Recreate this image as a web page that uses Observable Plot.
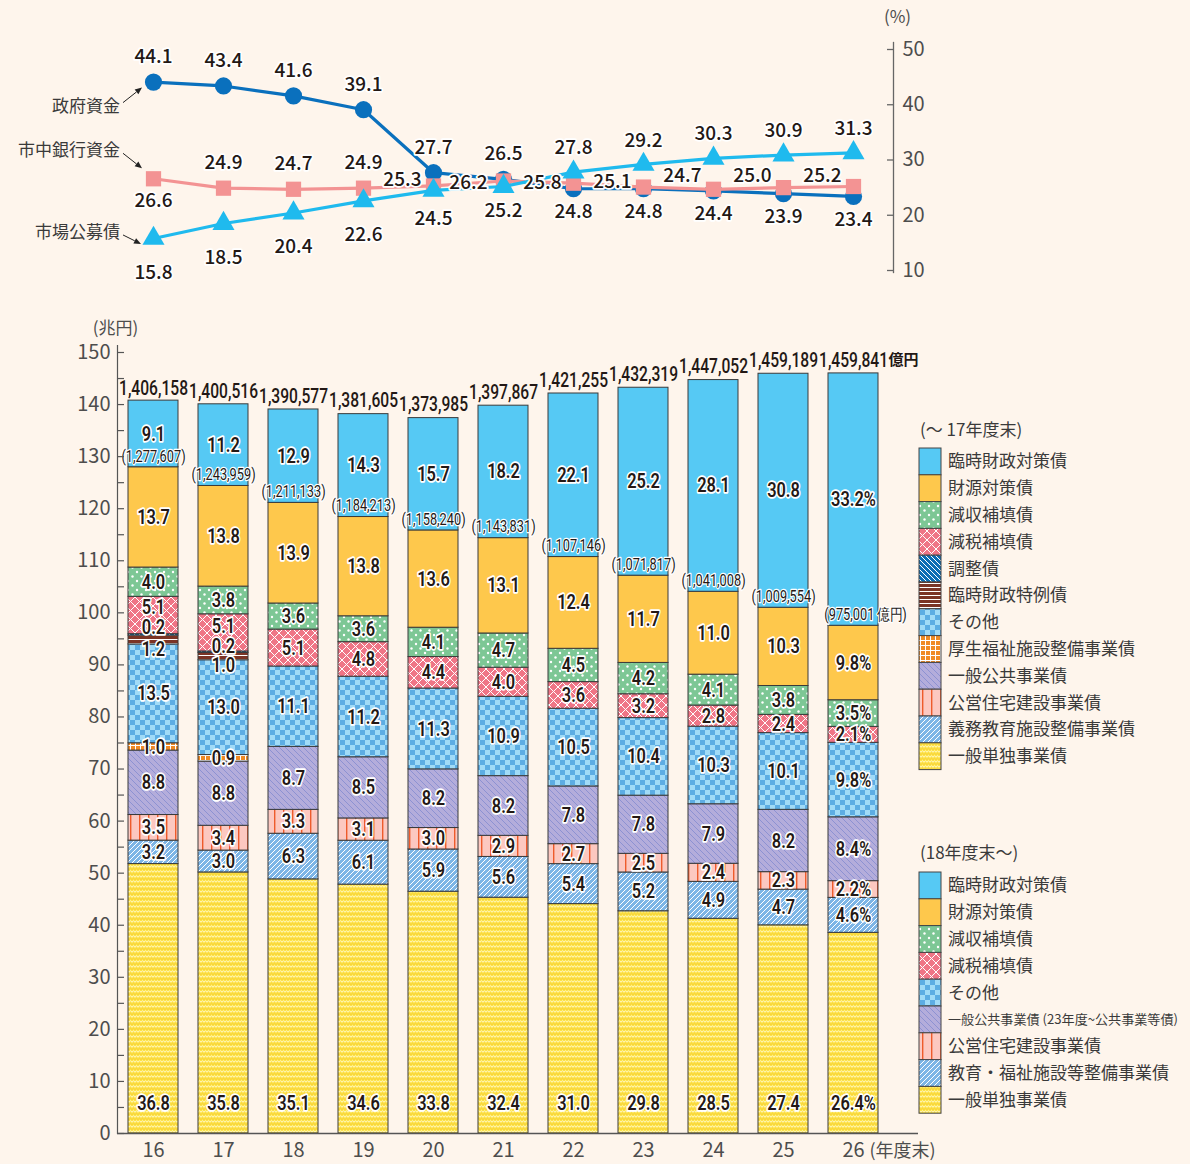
<!DOCTYPE html>
<html><head><meta charset="utf-8">
<script src="https://cdn.jsdelivr.net/npm/d3@7"></script>
<script src="https://cdn.jsdelivr.net/npm/@observablehq/plot@0.6"></script>
<style>
html,body{margin:0;padding:0;background:#fef5ec;}
#wrap{position:relative;width:1190px;height:1164px;overflow:hidden;background:#fef5ec;font-family:"Noto Sans CJK JP",sans-serif;}
#top,#bottom,#legend{position:absolute;left:0;}
#top{top:0}
#bottom{top:300px}
#legend{top:0}
</style></head><body>
<div id="wrap">
<svg width="0" height="0" style="position:absolute">
<defs>
<pattern id="pDots" width="9" height="9" patternUnits="userSpaceOnUse">
  <rect width="9" height="9" fill="#7dc795"/>
  <circle cx="2" cy="2" r="1.2" fill="#fff"/>
  <circle cx="6.5" cy="6.5" r="1.2" fill="#fff"/>
</pattern>
<pattern id="pCross" width="9" height="9" patternUnits="userSpaceOnUse">
  <rect width="9" height="9" fill="#ef7586"/>
  <path d="M0,0L9,9M9,0L0,9" stroke="#fff" stroke-width="1"/>
</pattern>
<pattern id="pAdj" width="5" height="5" patternUnits="userSpaceOnUse">
  <rect width="5" height="5" fill="#0a6cb4"/>
  <path d="M0,0L5,5M-1,4L1,6M4,-1L6,1" stroke="#fff" stroke-width="1"/>
</pattern>
<pattern id="pHStripe" width="4" height="4" patternUnits="userSpaceOnUse">
  <rect width="4" height="4" fill="#7b3425"/>
  <rect y="3" width="4" height="1" fill="#fff"/>
</pattern>
<pattern id="pChecker" width="10" height="10" patternUnits="userSpaceOnUse">
  <rect width="10" height="10" fill="#a1dbf7"/>
  <rect width="5" height="5" fill="#5dade3"/>
  <rect x="5" y="5" width="5" height="5" fill="#5dade3"/>
</pattern>
<pattern id="pGrid" width="5" height="5" patternUnits="userSpaceOnUse">
  <rect width="5" height="5" fill="#f08a24"/>
  <path d="M0,0.5H5M0.5,0V5" stroke="#fff" stroke-width="1"/>
</pattern>
<pattern id="pLav" width="6" height="6" patternUnits="userSpaceOnUse">
  <rect width="6" height="6" fill="#b4addb"/>
  <path d="M0,0L6,6M-1,5L1,7M5,-1L7,1" stroke="#7c86cf" stroke-width="0.7"/>
</pattern>
<pattern id="pVert" width="9" height="9" patternUnits="userSpaceOnUse">
  <rect width="9" height="9" fill="#fcc8c0"/>
  <rect x="4" width="1.4" height="9" fill="#ee5b2b"/>
</pattern>
<pattern id="pEdu" width="5" height="5" patternUnits="userSpaceOnUse">
  <rect width="5" height="5" fill="#7db5e6"/>
  <path d="M0,5L5,0M-1,1L1,-1M4,6L6,4" stroke="#fff" stroke-width="1"/>
</pattern>
<pattern id="pWave" width="6" height="5" patternUnits="userSpaceOnUse">
  <rect width="6" height="5" fill="#fde34a"/>
  <path d="M0,2.2L1.5,0.8L3,2.2L4.5,0.8L6,2.2" fill="none" stroke="#fff8c8" stroke-width="1"/>
  <path d="M0,4.6L1.5,3.2L3,4.6L4.5,3.2L6,4.6" fill="none" stroke="#f3c92a" stroke-width="0.8"/>
</pattern>
</defs>
</svg>
<div id="top"></div>
<div id="bottom"></div>
<svg id="legend" width="1190" height="1164"></svg>
</div>
<script>
// ---------------- DATA ----------------
const years = ["16","17","18","19","20","21","22","23","24","25","26"];

// Line chart (%)
const govFunds    = [44.1, 43.4, 41.6, 39.1, 27.7, 26.5, 24.8, 24.8, 24.4, 23.9, 23.4];
const bankFunds   = [26.6, 24.9, 24.7, 24.9, 25.3, 26.2, 25.8, 25.1, 24.7, 25.0, 25.2];
const marketBonds = [15.8, 18.5, 20.4, 22.6, 24.5, 25.2, 27.8, 29.2, 30.3, 30.9, 31.3];

// Bar totals (億円)
const totals      = [1406158, 1400516, 1390577, 1381605, 1373985, 1397867, 1421255, 1432319, 1447052, 1459189, 1459841];
const totalsExRinji = [1277607, 1243959, 1211133, 1184213, 1158240, 1143831, 1107146, 1071817, 1041008, 1009554, 975001];

// Composition shares (%), bottom to top
const ippanTandoku   = [36.8, 35.8, 35.1, 34.6, 33.8, 32.4, 31.0, 29.8, 28.5, 27.4, 26.4];
const gimuKyoiku     = [3.2, 3.0, null, null, null, null, null, null, null, null, null];
const kyoikuFukushi  = [null, null, 6.3, 6.1, 5.9, 5.6, 5.4, 5.2, 4.9, 4.7, 4.6];
const koeiJutaku     = [3.5, 3.4, 3.3, 3.1, 3.0, 2.9, 2.7, 2.5, 2.4, 2.3, 2.2];
const ippanKokyo     = [8.8, 8.8, 8.7, 8.5, 8.2, 8.2, 7.8, 7.8, 7.9, 8.2, 8.4];
const koseiFukushi   = [1.0, 0.9, null, null, null, null, null, null, null, null, null];
const sonota         = [13.5, 13.0, 11.1, 11.2, 11.3, 10.9, 10.5, 10.4, 10.3, 10.1, 9.8];
const rinjiTokurei   = [1.2, 1.0, null, null, null, null, null, null, null, null, null];
const choseisai      = [0.2, 0.2, null, null, null, null, null, null, null, null, null];
const genzeiHoten    = [5.1, 5.1, 5.1, 4.8, 4.4, 4.0, 3.6, 3.2, 2.8, 2.4, 2.1];
const genshuHoten    = [4.0, 3.8, 3.6, 3.6, 4.1, 4.7, 4.5, 4.2, 4.1, 3.8, 3.5];
const zaigenTaisaku  = [13.7, 13.8, 13.9, 13.8, 13.6, 13.1, 12.4, 11.7, 11.0, 10.3, 9.8];
const rinjiZaisei    = [9.1, 11.2, 12.9, 14.3, 15.7, 18.2, 22.1, 25.2, 28.1, 30.8, 33.2];

const categories = ["一般単独事業債","義務教育施設整備事業債","教育・福祉施設等整備事業債","公営住宅建設事業債","一般公共事業債","厚生福祉施設整備事業債","その他","臨時財政特例債","調整債","減税補填債","減収補填債","財源対策債","臨時財政対策債"];
const shareSeries = [ippanTandoku, gimuKyoiku, kyoikuFukushi, koeiJutaku, ippanKokyo, koseiFukushi, sonota, rinjiTokurei, choseisai, genzeiHoten, genshuHoten, zaigenTaisaku, rinjiZaisei];

const legendOld = ["臨時財政対策債","財源対策債","減収補填債","減税補填債","調整債","臨時財政特例債","その他","厚生福祉施設整備事業債","一般公共事業債","公営住宅建設事業債","義務教育施設整備事業債","一般単独事業債"];
const legendNew = ["臨時財政対策債","財源対策債","減収補填債","減税補填債","その他","一般公共事業債","公営住宅建設事業債","教育・福祉施設等整備事業債","一般単独事業債"];
const legendNewLabels = ["臨時財政対策債","財源対策債","減収補填債","減税補填債","その他","一般公共事業債 (23年度~公共事業等債)","公営住宅建設事業債","教育・福祉施設等整備事業債","一般単独事業債"];

// ---------------- STYLE ----------------
const fills = {
  "一般単独事業債":"url(#pWave)", "義務教育施設整備事業債":"url(#pEdu)", "教育・福祉施設等整備事業債":"url(#pEdu)",
  "公営住宅建設事業債":"url(#pVert)", "一般公共事業債":"url(#pLav)", "厚生福祉施設整備事業債":"url(#pGrid)",
  "その他":"url(#pChecker)", "臨時財政特例債":"url(#pHStripe)", "調整債":"url(#pAdj)",
  "減税補填債":"url(#pCross)", "減収補填債":"url(#pDots)", "財源対策債":"#fec84c", "臨時財政対策債":"#56c9f4"
};
const jp = '"Noto Sans CJK JP","Noto Sans",sans-serif';
const cond = 'Roboto,sans-serif';
const fmt = d3.format(",");
const ink = "#231815";
const axisInk = "#4d4d4d";
const xLo = 151, xHi = 854; // centre of first / last year

// ---------------- TOP LINE CHART ----------------
const lineSeries = [
  {name:"政府資金", values: govFunds, color:"#0a70bd", symbol:"circle", r:8.6},
  {name:"市中銀行資金", values: bankFunds, color:"#f39393", symbol:"square", r:8.6},
  {name:"市場公募債", values: marketBonds, color:"#1fbaee", symbol:"triangle", r:8.2}
];
const linePts = lineSeries.flatMap(s => s.values.map((v,i)=>({series:s.name, year:years[i], v, i})));

function labelOffset(p) {
  const i = p.i;
  if (p.series === "政府資金") return i <= 5 ? {dx:0, dy:-25, anchor:"middle"} : {dx:0, dy:23, anchor:"middle"};
  if (p.series === "市中銀行資金") {
    if (i === 0) return {dx:0, dy:22, anchor:"middle"};
    if (i <= 3) return {dx:0, dy:-25, anchor:"middle"};
    const dyMap = {4:-6, 5:2, 6:0, 7:-5, 8:-13, 9:-12, 10:-11};
    return {dx: i===5 ? -16 : -12, dy: dyMap[i], anchor:"end"};
  }
  if (i <= 3) return {dx:0, dy:34, anchor:"middle"};
  if (i === 4) return {dx:0, dy:29, anchor:"middle"};
  if (i === 5) return {dx:0, dy:24, anchor:"middle"};
  return {dx:0, dy:-24, anchor:"middle"};
}
function offsetTexts(records, offsetFn, opts) {
  const groups = d3.groups(records, r => { const o = offsetFn(r); return `${o.dx}|${o.dy}|${o.anchor}`; });
  return groups.map(([k, rs]) => { const o = offsetFn(rs[0]); return Plot.text(rs, {...opts, dx:o.dx, dy:o.dy, textAnchor:o.anchor}); });
}

const notes = [
  {series:0, text:"政府資金", tdx:-33, tdy:24, a:[-30,21,-11,6]},
  {series:1, text:"市中銀行資金", tdx:-33, tdy:-28, a:[-30,-25,-11,-10]},
  {series:2, text:"市場公募債", tdx:-33, tdy:-6, a:[-30,-3,-12,6]}
];
function leftNotes(index, scales) {
  const g = d3.create("svg:g");
  const x0 = scales.x(years[0]);
  notes.forEach(n => {
    const y0 = scales.y(lineSeries[n.series].values[0]);
    g.append("text").attr("x", x0 + n.tdx).attr("y", y0 + n.tdy).attr("dy","0.35em")
      .attr("text-anchor","end").attr("font-size",17).attr("font-family", jp).attr("fill","#3a3a3a").text(n.text);
    const [ax1, ay1, ax2, ay2] = n.a;
    const x1 = x0+ax1, y1 = y0+ay1, x2 = x0+ax2, y2 = y0+ay2;
    const ang = Math.atan2(y2-y1, x2-x1), L = 7, W = 3;
    const bx = x2 - L*Math.cos(ang), by = y2 - L*Math.sin(ang);
    g.append("line").attr("x1",x1).attr("y1",y1).attr("x2",bx).attr("y2",by).attr("stroke","#222").attr("stroke-width",1);
    g.append("path").attr("d", `M${x2},${y2}L${bx - W*Math.sin(ang)},${by + W*Math.cos(ang)}L${bx + W*Math.sin(ang)},${by - W*Math.cos(ang)}Z`).attr("fill","#222");
  });
  return g.node();
}

const topMarks = [
  Plot.frame({anchor:"right", stroke:"#666", strokeWidth:1.3}),
  Plot.tickY([10,20,30,40,50], {y:d=>d, insetLeft: 893-6, stroke:"#666", strokeWidth:1.3}),
  Plot.axisY({anchor:"right", ticks:[10,20,30,40,50], tickSize:0, tickPadding:9, label:null, fontSize:20, fontFamily:jp}),
  Plot.text(["(%)"], {frameAnchor:"top-right", textAnchor:"middle", lineAnchor:"middle", dx:4, dy:-25, fontSize:17, fontFamily:jp, fill:axisInk})
];
lineSeries.forEach(s => {
  const pts = linePts.filter(p => p.series === s.name);
  topMarks.push(Plot.line(pts, {x:"year", y:"v", stroke:s.color, strokeWidth:3.2}));
  topMarks.push(Plot.dot(pts, {x:"year", y:"v", r:s.r, symbol:s.symbol, fill:s.color, stroke:"none"}));
});
lineSeries.forEach(s => {
  const pts = linePts.filter(p => p.series === s.name);
  topMarks.push(...offsetTexts(pts, labelOffset, {x:"year", y:"v", text:d=>d.v.toFixed(1), fontSize:19, fontWeight:500, fontFamily:jp, fill:ink, stroke:"#fff", strokeWidth:3.5, paintOrder:"stroke"}));
});
topMarks.push(leftNotes);

const topChart = Plot.plot({
  width:1190, height:300, marginTop:42, marginBottom:28, marginLeft:0, marginRight:297,
  x:{type:"point", domain:years, range:[xLo, xHi], padding:0, axis:null},
  y:{domain:[10,50], range:[270,49]},
  style:{background:"transparent", color:axisInk, fontFamily:jp, fontSize:"20px"},
  marks: topMarks
});
document.getElementById("top").appendChild(topChart);

// ---------------- BOTTOM BAR CHART ----------------
const segs = [];
years.forEach((yr, i) => {
  const T = totals[i] / 10000; // 兆円
  let acc = 0;
  categories.forEach((cat, k) => {
    const p = shareSeries[k][i];
    if (p == null) return;
    const v = T * p / 100;
    segs.push({year:yr, cat, pct:p, y1:acc, y2:acc+v, label: i === years.length-1 ? p.toFixed(1)+"%" : p.toFixed(1)});
    acc += v;
  });
});
const special = {"16|臨時財政特例債":9, "16|調整債":-7, "16|減税補填債":-8, "17|調整債":-6, "17|臨時財政特例債":9, "17|減税補填債":-6};
const segOffset = s => ({dx:0, dy: special[s.year+"|"+s.cat] || 0, anchor:"middle"});
const labelStyle = {fontFamily:cond, fontWeight:600, fontSize:20.5, fill:ink, stroke:"#fff", strokeWidth:3.5, paintOrder:"stroke"};

const totalRecs = years.map((yr,i)=>({year:yr, v:totals[i]/10000, ex:totalsExRinji[i]/10000, t:fmt(totals[i]), te:"(" + fmt(totalsExRinji[i]) + (i===years.length-1 ? " 億円)" : ")")}));
const lastRec = totalRecs.slice(-1);
const step = (xHi - xLo) / (years.length - 1);

const bottomChart = Plot.plot({
  width:1190, height:864, marginTop:45, marginBottom:31, marginLeft:117, marginRight:272,
  x:{type:"band", domain:years, range:[xLo - step/2, xHi + step/2], paddingInner:0.29, paddingOuter:0.145},
  y:{domain:[0,150], range:[833, 52]},
  color:{type:"identity"},
  style:{background:"transparent", color:axisInk, fontFamily:jp, fontSize:"20px"},
  marks:[
    Plot.barY(segs, {x:"year", y1:"y1", y2:"y2", fill:d=>fills[d.cat], stroke:"#3a3a3a", strokeWidth:1}),
    ...offsetTexts(segs.filter(s=>s.cat!=="一般単独事業債"), segOffset, {x:"year", y:d=>(d.y1+d.y2)/2, text:"label", ...labelStyle}),
    Plot.text(segs.filter(s=>s.cat==="一般単独事業債"), {x:"year", text:"label", frameAnchor:"bottom", lineAnchor:"middle", dy:-30, ...labelStyle}),
    Plot.text(totalRecs, {x:"year", y:"v", text:"t", dy:-13, fontFamily:cond, fontSize:19.5, fontWeight:500, fill:ink}),
    Plot.text(lastRec, {x:"year", y:"v", text:()=>"億円", dx:35, dy:-13, textAnchor:"start", fontFamily:jp, fontSize:15, fontWeight:700, fill:ink}),
    Plot.text(totalRecs.slice(0,-1), {x:"year", y:"ex", text:"te", dy:-11, fontFamily:cond, fontSize:16, fill:ink, stroke:"#fff", strokeWidth:2.5, paintOrder:"stroke"}),
    Plot.text(lastRec, {x:"year", y:"ex", text:"te", dx:12, dy:-11, fontFamily:cond, fontSize:16, fill:ink, stroke:"#fff", strokeWidth:2.5, paintOrder:"stroke"}),
    Plot.frame({anchor:"left", stroke:"#555", strokeWidth:1.2}),
    Plot.tickY(d3.range(0,151,5), {y:d=>d, insetRight:801-7, stroke:"#555", strokeWidth:1.2}),
    Plot.ruleY([0], {stroke:"#555", strokeWidth:1.3}),
    Plot.axisY({ticks:d3.range(0,151,10), tickSize:0, tickPadding:7, label:null, fontSize:20, fontFamily:jp}),
    Plot.axisX({tickSize:0, tickPadding:9, label:null, fontSize:20, fontFamily:jp}),
    Plot.text(["(兆円)"], {frameAnchor:"top-left", textAnchor:"middle", lineAnchor:"middle", dx:-2, dy:-17, fontSize:17, fontFamily:jp, fill:axisInk}),
    Plot.text(["(年度末)"], {x:()=>"26", frameAnchor:"bottom", lineAnchor:"middle", dx:16, dy:18, textAnchor:"start", fontSize:18, fontFamily:jp, fill:axisInk})
  ]
});
document.getElementById("bottom").appendChild(bottomChart);

// narrow the condensed-style number labels horizontally
bottomChart.querySelectorAll("g[font-family]").forEach(g => {
  if (!/Roboto/.test(g.getAttribute("font-family"))) return;
  g.querySelectorAll("text").forEach(t => {
    const tr = t.getAttribute("transform");
    if (tr && /translate/.test(tr)) {
      t.setAttribute("transform", tr + " scale(0.8,1)");
    } else {
      const x = +(t.getAttribute("x") || 0), y = +(t.getAttribute("y") || 0);
      t.removeAttribute("x"); t.removeAttribute("y");
      t.setAttribute("transform", `translate(${x},${y}) ${tr || ""} scale(0.8,1)`);
    }
  });
});

// ---------------- LEGENDS ----------------
const lg = d3.select("#legend");
function drawLegend(x, yHeader, yStart, title, keys, labels) {
  lg.append("text").attr("x", x+1).attr("y", yHeader).attr("dy","0.35em").attr("font-size",17)
    .attr("font-family", jp).attr("fill","#3a3a3a").text(title);
  const h = 26.8;
  keys.forEach((k, i) => {
    const y = yStart + i*h;
    lg.append("rect").attr("x", x).attr("y", y).attr("width", 22).attr("height", h)
      .attr("fill", fills[k]).attr("stroke","#444").attr("stroke-width",1);
    const lab = labels[i];
    const long = lab.length > 16;
    const t = lg.append("text").attr("x", x+29).attr("y", y + h/2).attr("dy","0.35em")
      .attr("font-size", long ? 13 : 17).attr("font-family", jp).attr("fill","#3a3a3a").text(lab);
    if (long) t.attr("textLength", 230).attr("lengthAdjust", "spacingAndGlyphs");
  });
}
drawLegend(919, 430, 448, "(～ 17年度末)", legendOld, legendOld);
drawLegend(919, 853, 872, "(18年度末～)", legendNew, legendNewLabels);
</script>
</body></html>
